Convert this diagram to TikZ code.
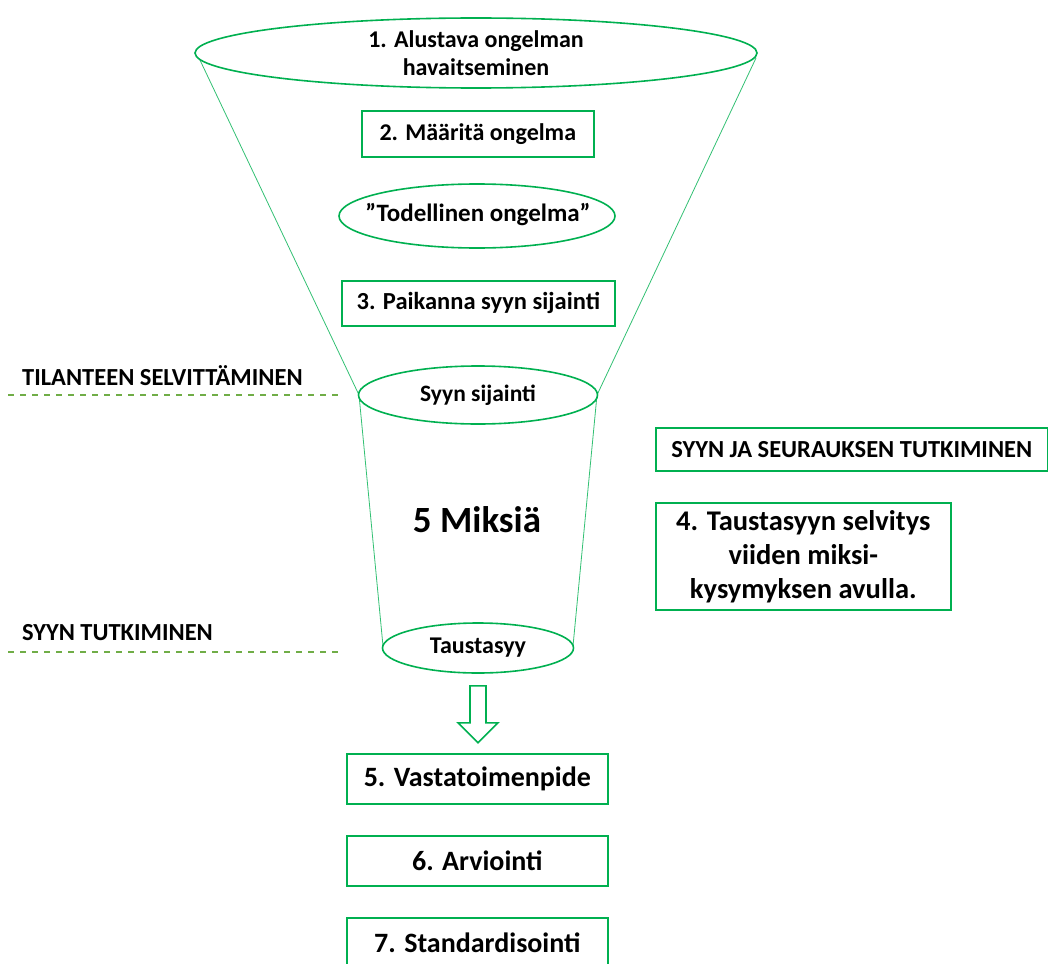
\documentclass[tikz,border=0pt]{standalone}
\usepackage{fontspec}
\setmainfont{Carlito}
\usetikzlibrary{shapes.geometric,calc}
\definecolor{boxgreen}{HTML}{00B050}
\definecolor{dashgreen}{HTML}{70AD47}
\newcommand{\fs}[2]{\bfseries\fontsize{#1}{#2}\selectfont}
\begin{document}
\begin{tikzpicture}[x=1pt,y=-1pt,
  every node/.style={text=black, inner sep=0pt},
  oval/.style={ellipse, draw=boxgreen, line width=1.6pt},
  ovalline/.style={draw=boxgreen, line width=1.6pt},
  stepbox/.style={draw=boxgreen, line width=1.6pt, anchor=north west},
  funnel/.style={draw=boxgreen!80, line width=0.8pt},
  phase/.style={draw=dashgreen, line width=1.2pt, dash pattern=on 6pt off 6pt},
  phasetext/.style={anchor=west, font=\fs{24.5}{28}},
  blockarrow/.style={draw=boxgreen, line width=1.6pt, line join=miter}]
\useasboundingbox (0,0) rectangle (1048,963);

% funnel outline
\coordinate (tl) at (199,58);
\coordinate (tr) at (756,58);
\coordinate (ml) at (359,395);
\coordinate (mr) at (597,395);
\coordinate (bl) at (383,646);
\coordinate (br) at (573,646);
\draw[funnel] (tl) -- (ml) -- (bl);
\draw[funnel] (tr) -- (mr) -- (br);

% funnel stages
\node[oval, fill=white, minimum width=562, minimum height=70, align=center,
  font=\fs{24}{28}] (s1) at (476,53)
  {1. Alustava ongelman\\havaitseminen};
\node[stepbox, minimum width=232, minimum height=46,
  font=\fs{24}{28}] (s2) at (361,110) {2. Määritä ongelma};
\node[font=\fs{25}{28}] (real) at (478,215) {”Todellinen ongelma”};
\draw[ovalline] ($(real.center)+(-1,1)$) ellipse [x radius=138, y radius=32];
\node[stepbox, minimum width=273, minimum height=45,
  font=\fs{24.5}{28}] (s3) at (341,280) {3. Paikanna syyn sijainti};
\node[oval, fill=white, minimum width=239, minimum height=58,
  font=\fs{23.5}{28}] (loc) at (478,395) {Syyn sijainti};
\node[font=\fs{37}{42}] (why) at (477,520) {5 Miksiä};
\node[oval, fill=white, minimum width=191, minimum height=50,
  font=\fs{24}{28}] (root) at (478,648) {Taustasyy};

% phase markers on the left
\node[phasetext] (ph1) at (22,376) {TILANTEEN SELVITTÄMINEN};
\coordinate (d1a) at (8,395);
\coordinate (d1b) at (340,395);
\draw[phase] (d1a) -- (d1b);
\node[phasetext] (ph2) at (22,633) {SYYN TUTKIMINEN};
\coordinate (d2a) at (8,652);
\coordinate (d2b) at (340,652);
\draw[phase] (d2a) -- (d2b);

% explanation on the right
\node[stepbox, minimum width=392, minimum height=43,
  font=\fs{24.5}{28}] (cause) at (655,427)
  {SYYN JA SEURAUKSEN TUTKIMINEN};
\node[stepbox, minimum width=295, minimum height=107, align=center,
  font=\fs{28.5}{34}] (s4) at (655,502)
  {4. Taustasyyn selvitys\\viiden miksi-\\kysymyksen avulla.};

% block arrow down from the root cause
\draw[blockarrow] ($(root.south)+(-8,12)$) -- ($(root.south)+(-8,49)$)
  -- ($(root.south)+(-20,49)$) -- ($(root.south)+(0,69)$)
  -- ($(root.south)+(20,49)$) -- ($(root.south)+(8,49)$)
  -- ($(root.south)+(8,12)$) -- cycle;

% action steps
\node[stepbox, minimum width=261, minimum height=50,
  font=\fs{28}{32}] (s5) at (346,753) {5. Vastatoimenpide};
\node[stepbox, minimum width=261, minimum height=50,
  font=\fs{28}{32}] (s6) at (346,835) {6. Arviointi};
\node[stepbox, minimum width=261, minimum height=50,
  font=\fs{28}{32}] (s7) at (346,917) {7. Standardisointi};
\end{tikzpicture}
\end{document}
